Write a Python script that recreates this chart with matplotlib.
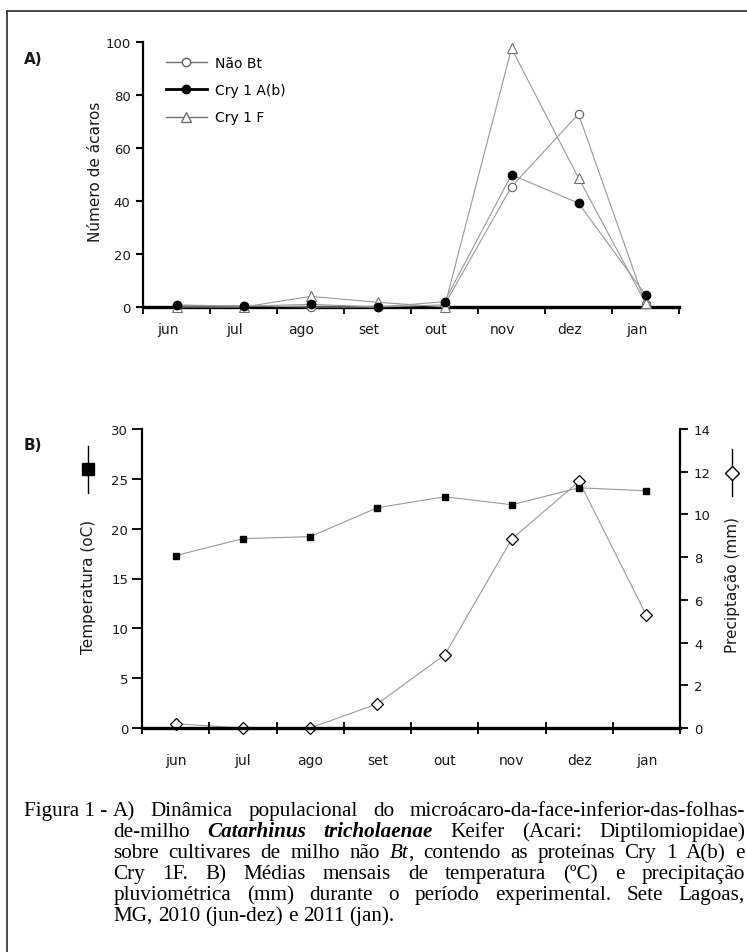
import matplotlib
matplotlib.use("Agg")
import matplotlib.pyplot as plt
import matplotlib.transforms as mtransforms
from matplotlib.lines import Line2D
import numpy as np

W, H = 747, 953

months = ["jun", "jul", "ago", "set", "out", "nov", "dez", "jan"]

# Panel A: numero de acaros
nao_bt = [0.5, 0.5, 0.0, 0.0, 0.8, 45.4, 72.8, 1.1]
cry1ab = [0.8, 0.3, 1.0, 0.0, 2.0, 49.9, 39.2, 4.6]
cry1f = [0.0, 0.0, 4.0, 1.8, 0.0, 97.6, 48.7, 1.5]

# Panel B: temperatura (oC) e precipitacao (mm)
temperatura = [17.3, 19.0, 19.2, 22.1, 23.2, 22.4, 24.1, 23.8]
precipitacao = [0.2, 0.0, 0.0, 1.13, 3.42, 8.85, 11.55, 5.28]

LINE = "#9a9a9a"
TEXT = "#1a1a1a"
SANS = "DejaVu Sans"
SERIF = "Liberation Serif"

caption_first = "Figura 1 -"
caption_lines = [
    [[("A)", "n")], [("Dinâmica", "n")], [("populacional", "n")], [("do", "n")],
     [("microácaro-da-face-inferior-das-folhas-", "n")]],
    [[("de-milho", "n")], [("Catarhinus", "bi")], [("tricholaenae", "bi")], [("Keifer", "n")],
     [("(Acari:", "n")], [("Diptilomiopidae)", "n")]],
    [[("sobre", "n")], [("cultivares", "n")], [("de", "n")], [("milho", "n")], [("não", "n")],
     [("Bt", "i"), (",", "n")], [("contendo", "n")], [("as", "n")], [("proteínas", "n")],
     [("Cry", "n")], [("1", "n")], [("A(b)", "n")], [("e", "n")]],
    [[("Cry", "n")], [("1F.", "n")], [("B)", "n")], [("Médias", "n")], [("mensais", "n")],
     [("de", "n")], [("temperatura", "n")], [("(ºC)", "n")], [("e", "n")], [("precipitação", "n")]],
    [[("pluviométrica", "n")], [("(mm)", "n")], [("durante", "n")], [("o", "n")], [("período", "n")],
     [("experimental.", "n")], [("Sete", "n")], [("Lagoas,", "n")]],
    [[("MG,", "n")], [("2010", "n")], [("(jun-dez)", "n")], [("e", "n")], [("2011", "n")], [("(jan).", "n")]],
]


def fx(px):
    return px / W


def fy(py):
    return 1 - py / H


def ax_rect(left, top, right, bottom):
    return [fx(left), fy(bottom), fx(right) - fx(left), fy(top) - fy(bottom)]


fig = plt.figure(figsize=(W / 100, H / 100), dpi=100)
fig.patch.set_facecolor("white")

# outer frame of the figure (left and top edges only visible)
fig.add_artist(Line2D([fx(7), fx(7)], [fy(12), 0], transform=fig.transFigure,
                      color="#3a3a3a", lw=1.3))
fig.add_artist(Line2D([fx(7), 1], [fy(12), fy(12)], transform=fig.transFigure,
                      color="#3a3a3a", lw=1.3))

x = np.arange(len(months))

# ---------------- Panel A ----------------
axA = fig.add_axes(ax_rect(143, 43, 679, 308))
axA.plot(x, nao_bt, color=LINE, lw=0.8, marker="o", ms=6, mfc="white", mec="#606060",
         mew=0.8, zorder=3, clip_on=False)
axA.plot(x, cry1ab, color=LINE, lw=0.8, marker="o", ms=6, mfc="black", mec="black",
         zorder=4, clip_on=False)
axA.plot(x, cry1f, color=LINE, lw=0.8, marker="^", ms=7, mfc="white", mec="#707070",
         mew=0.8, zorder=3, clip_on=False)
axA.set_xlim(-0.5, len(months) - 0.5)
axA.set_ylim(0, 100)
axA.set_yticks(np.arange(0, 101, 20))
axA.set_xticks(np.arange(-0.5, len(months), 1))
axA.set_xticklabels([])
axA.set_xticks(x, minor=True)
axA.set_xticklabels(months, minor=True, fontsize=10, family=SANS, color=TEXT)
axA.tick_params(axis="x", which="major", direction="out", length=5, width=1.3, color="black")
axA.tick_params(axis="x", which="minor", length=0, pad=11)
axA.tick_params(axis="y", direction="out", length=5, width=1.5, labelsize=9.5, pad=4,
                labelcolor=TEXT)
for lab in axA.get_yticklabels():
    lab.set_family(SANS)
shift = mtransforms.ScaledTranslation(-9 / 100, 0, fig.dpi_scale_trans)
for lab in axA.xaxis.get_minorticklabels():
    lab.set_transform(lab.get_transform() + shift)
for s in ["top", "right"]:
    axA.spines[s].set_visible(False)
axA.spines["left"].set_linewidth(1.6)
axA.spines["bottom"].set_linewidth(2.4)

fig.text(fx(95), fy(172), "Número de ácaros", rotation=90, ha="center", va="center",
         fontsize=11, family=SANS, color=TEXT)
fig.text(fx(24), fy(60), "A)", ha="left", va="center", fontsize=11, fontweight="bold",
         family=SANS, color=TEXT)

handles = [
    Line2D([], [], color="#707070", lw=1.0, marker="o", ms=6, mfc="white", mec="#606060"),
    Line2D([], [], color="black", lw=2.0, marker="o", ms=6, mfc="black", mec="black"),
    Line2D([], [], color="#707070", lw=1.0, marker="^", ms=7, mfc="white", mec="#707070"),
]
axA.legend(handles, ["Não Bt", "Cry 1 A(b)", "Cry 1 F"], loc="upper left",
           bbox_to_anchor=(fx(166), fy(57)), bbox_transform=fig.transFigure,
           frameon=False, borderpad=0, borderaxespad=0, handlelength=2.95,
           handletextpad=0.55, labelspacing=0.95, prop={"family": SANS, "size": 10})

# ---------------- Panel B ----------------
axB = fig.add_axes(ax_rect(142, 430, 680, 729))
axP = axB.twinx()
axB.plot(x, temperatura, color=LINE, lw=0.8, marker="s", ms=4.5, mfc="black", mec="black",
         zorder=3, clip_on=False)
axP.plot(x, precipitacao, color=LINE, lw=0.8, marker="D", ms=6, mfc="white", mec="black",
         mew=0.9, zorder=4, clip_on=False)
axB.set_xlim(-0.5, len(months) - 0.5)
axB.set_ylim(0, 30)
axP.set_ylim(0, 14)
axB.set_yticks(np.arange(0, 31, 5))
axP.set_yticks(np.arange(0, 15, 2))
axB.set_xticks(np.arange(-0.5, len(months), 1))
axB.set_xticklabels([])
axB.set_xticks(x, minor=True)
axB.set_xticklabels(months, minor=True, fontsize=10, family=SANS, color=TEXT)
axB.tick_params(axis="x", which="major", direction="inout", length=9, width=1.3, color="black")
axB.tick_params(axis="x", which="minor", length=0, pad=18)
axB.tick_params(axis="y", direction="out", length=7, width=1.3, labelsize=9.5, pad=3,
                labelcolor=TEXT)
axP.tick_params(axis="y", direction="out", length=6, width=1.3, labelsize=9.5, pad=4,
                labelcolor=TEXT)
for lab in axB.get_yticklabels() + axP.get_yticklabels():
    lab.set_family(SANS)
for a in (axB, axP):
    a.spines["top"].set_visible(False)
axB.spines["right"].set_visible(False)
axP.spines["left"].set_visible(False)
axP.spines["bottom"].set_visible(False)
axB.spines["left"].set_linewidth(1.6)
axP.spines["right"].set_linewidth(1.6)
axB.spines["bottom"].set_linewidth(2.4)
axB.set_zorder(axP.get_zorder() + 1)
axB.patch.set_visible(False)

fig.text(fx(24), fy(445), "B)", ha="left", va="center", fontsize=11, fontweight="bold",
         family=SANS, color=TEXT)
fig.text(fx(88), fy(587), "Temperatura (oC)", rotation=90, ha="center", va="center",
         fontsize=11, family=SANS, color=TEXT)
fig.text(fx(732), fy(585), "Preciptação (mm)", rotation=90, ha="center", va="center",
         fontsize=11, family=SANS, color=TEXT)

# series keys drawn vertically next to the axis titles
fig.add_artist(Line2D([fx(88)] * 3, [fy(447), fy(470), fy(494)], transform=fig.transFigure,
                      color="black", lw=1.0, marker="s", ms=9, markevery=[1],
                      mfc="black", mec="black"))
fig.add_artist(Line2D([fx(732)] * 3, [fy(450), fy(474), fy(497)], transform=fig.transFigure,
                      color="black", lw=1.0, marker="D", ms=7, markevery=[1],
                      mfc="white", mec="black", mew=1.0))

# ---------------- Caption (justified) ----------------
CAP_SIZE = 15.2
STYLES = {"n": {}, "i": {"style": "italic"}, "bi": {"style": "italic", "weight": "bold"}}
renderer = fig.canvas.get_renderer()


def run_text(s, kind, xpx, ypx):
    st = STYLES[kind]
    return fig.text(fx(xpx), fy(ypx), s, ha="left", va="baseline", fontsize=CAP_SIZE,
                    family=SERIF, color="black", fontstyle=st.get("style", "normal"),
                    fontweight=st.get("weight", "normal"))


def width_px(t):
    return t.get_window_extent(renderer).width


first = run_text(caption_first, "n", 24, 816)
x_left, x_right = 24 + width_px(first) + 6, 745
baselines = [816, 837, 858, 879, 900, 921]
space_nat = None
for i, (words, yb) in enumerate(zip(caption_lines, baselines)):
    placed = []
    for word in words:
        arts = [run_text(s, k, 0, yb) for s, k in word]
        placed.append((arts, [width_px(a) for a in arts]))
    if space_nat is None:
        probe = run_text("a a", "n", 0, yb)
        probe2 = run_text("aa", "n", 0, yb)
        space_nat = width_px(probe) - width_px(probe2)
        probe.remove()
        probe2.remove()
    total = sum(sum(ws) for _, ws in placed)
    gaps = len(placed) - 1
    last = i == len(caption_lines) - 1
    gap = space_nat if last or gaps == 0 else (x_right - x_left - total) / gaps
    cur = x_left
    for arts, ws in placed:
        for a, w in zip(arts, ws):
            a.set_position((fx(cur), fy(yb)))
            cur += w
        cur += gap

fig.savefig("out.png", dpi=100, facecolor="white")
